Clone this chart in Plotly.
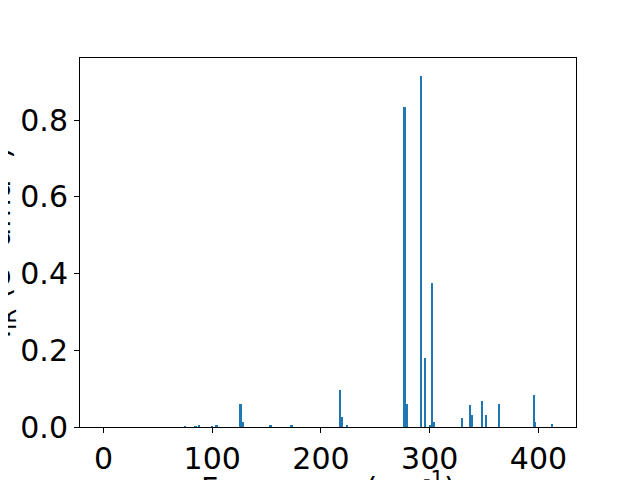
import plotly.graph_objects as go

freqs = [0.0, 75, 85, 88, 100, 104, 126.4, 128, 154, 173, 217.5, 219, 224,
         277, 279, 292, 296, 301, 302.5, 304, 329.9, 337.2, 339, 348.2, 352.2,
         363.7, 395.9, 397.2, 412.5]
intens = [0.0, 0.002, 0.002, 0.003, 0.002, 0.004, 0.06, 0.012, 0.004, 0.006,
          0.096, 0.025, 0.004, 0.833, 0.06, 0.916, 0.18, 0.004, 0.375, 0.013,
          0.023, 0.057, 0.031, 0.068, 0.031, 0.06, 0.083, 0.013, 0.008]
xticks = [0, 100, 200, 300, 400]
yticks = [0.0, 0.2, 0.4, 0.6, 0.8]

fig = go.Figure(go.Bar(x=freqs, y=intens, width=1.8, marker=dict(color="#1f77b4", line=dict(width=0))))

font = dict(family="DejaVu Sans", size=30, color="black")
axis_common = dict(showline=True, linecolor="black", linewidth=1, mirror=True,
                   ticks="outside", ticklen=5, tickwidth=1, tickcolor="black",
                   showgrid=False, zeroline=False, tickfont=font, automargin=False)
fig.update_layout(
    width=632, height=472,
    margin=dict(l=72, r=64, t=50, b=53),
    paper_bgcolor="white", plot_bgcolor="white",
    showlegend=False,
    xaxis=dict(range=[-21.6, 434.5], tickvals=xticks, ticktext=[str(v) for v in xticks], **axis_common),
    yaxis=dict(range=[0, 0.9616], tickvals=yticks, ticktext=[f"{v:.1f}" for v in yticks], **axis_common),
    bargap=0,
)
fig.add_annotation(text="Frequency (cm<sup>-1</sup>)", xref="paper", yref="paper",
                   x=0.5, y=-38/369, xanchor="center", yanchor="top", showarrow=False,
                   font=font)
fig.add_annotation(text="I<sub>IR</sub> (e<sup>2</sup> amu<sup>-1</sup>)", xref="paper", yref="paper",
                   x=-80/496, y=0.5, xanchor="center", yanchor="middle", showarrow=False,
                   textangle=-90, font=font)
fig.write_html("out.html")
